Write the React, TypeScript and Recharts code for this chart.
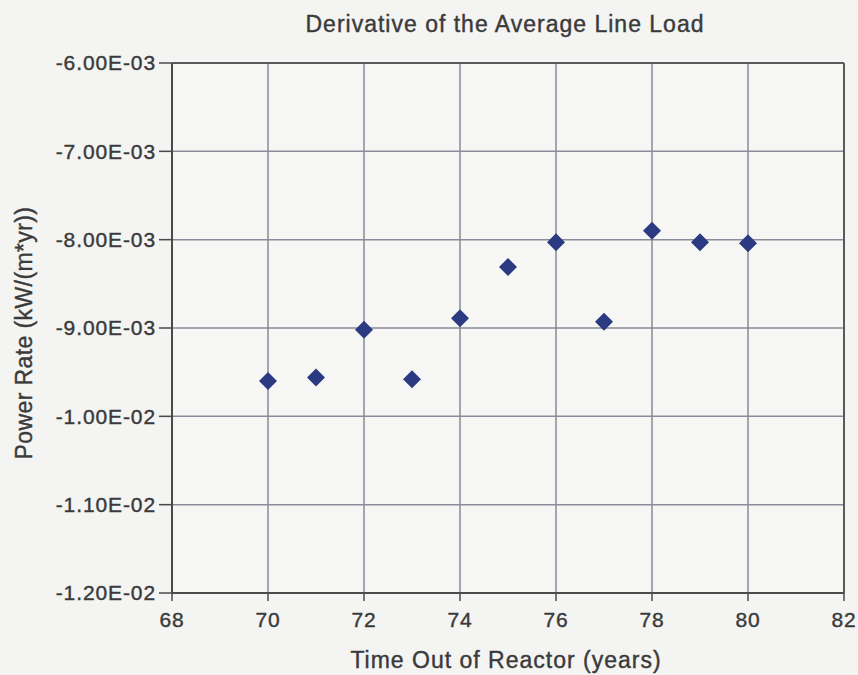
import React from "react";
import {
  ScatterChart,
  Scatter,
  XAxis,
  YAxis,
  CartesianGrid,
  ReferenceLine,
} from "recharts";

const years = [70, 71, 72, 73, 74, 75, 76, 77, 78, 79, 80];
const powerRate = [
  -0.0096, -0.00956, -0.00902, -0.00958, -0.00889, -0.00831, -0.00803, -0.00893,
  -0.0079, -0.00803, -0.00804,
];
const xTicks = [68, 70, 72, 74, 76, 78, 80, 82];
const yTicks = [-0.012, -0.011, -0.01, -0.009, -0.008, -0.007, -0.006];

const title = "Derivative of the Average Line Load";
const xLabel = "Time Out of Reactor (years)";
const yLabel = "Power Rate (kW/(m*yr))";

const data = years.map((x, i) => ({ x, y: powerRate[i] }));

const fmtSci = (v: number) => {
  const s = v.toExponential(2); // e.g. -6.00e-3
  const [m, e] = s.split("e");
  const neg = e[0] === "-";
  const digits = e.replace(/^[+-]/, "").padStart(2, "0");
  return `${m}E${neg ? "-" : "+"}${digits}`;
};

const TEXT = "#3a3a3a";
const FONT = "'Liberation Sans', Arial, sans-serif";

const Diamond = (props: any) => {
  const { cx, cy } = props;
  if (cx == null || cy == null) return null;
  const r = 9;
  return (
    <polygon
      points={`${cx},${cy - r} ${cx + r},${cy} ${cx},${cy + r} ${cx - r},${cy}`}
      fill="#2c3a82"
    />
  );
};

const tickStyle = {
  fill: TEXT,
  stroke: TEXT,
  strokeWidth: 0.4,
  fontSize: 21,
  letterSpacing: 0.9,
  fontFamily: FONT,
};

export default function App() {
  return (
    <div
      style={{
        position: "absolute",
        left: 0,
        top: 0,
        width: 858,
        height: 675,
        background: "#f4f4f2",
        fontFamily: FONT,
      }}
    >
      <ScatterChart
        width={858}
        height={675}
        margin={{ top: 63, right: 14, bottom: 42, left: 0 }}
      >
        <CartesianGrid stroke="#8a8a98" strokeWidth={1.5} fill="#f6f6f4" />
        <XAxis
          type="number"
          dataKey="x"
          domain={[68, 82]}
          ticks={xTicks}
          height={40}
          tickSize={8}
          tickMargin={11}
          axisLine={{ stroke: "#4a4a4a", strokeWidth: 2 }}
          tickLine={{ stroke: "#4a4a4a", strokeWidth: 1.5 }}
          tick={tickStyle}
        />
        <YAxis
          type="number"
          dataKey="y"
          domain={[-0.012, -0.006]}
          ticks={yTicks}
          width={172}
          tickSize={13}
          tickMargin={3}
          tickFormatter={fmtSci}
          axisLine={{ stroke: "#4a4a4a", strokeWidth: 2 }}
          tickLine={{ stroke: "#4a4a4a", strokeWidth: 1.5 }}
          tick={tickStyle}
        />
        <ReferenceLine y={-0.006} stroke="#5a5a5a" strokeWidth={2} />
        <ReferenceLine x={82} stroke="#5a5a5a" strokeWidth={2} />
        <Scatter data={data} shape={Diamond} isAnimationActive={false} />
      </ScatterChart>
      <svg
        width={858}
        height={675}
        style={{ position: "absolute", left: 0, top: 0, pointerEvents: "none" }}
      >
        <text
          x={505}
          y={32}
          textAnchor="middle"
          fill={TEXT}
          stroke={TEXT}
          strokeWidth={0.4}
          fontSize={23}
          letterSpacing={1}
          fontFamily={FONT}
        >
          {title}
        </text>
        <text
          x={506}
          y={668}
          textAnchor="middle"
          fill={TEXT}
          stroke={TEXT}
          strokeWidth={0.4}
          fontSize={23}
          letterSpacing={1}
          fontFamily={FONT}
        >
          {xLabel}
        </text>
        <text
          x={32}
          y={333}
          textAnchor="middle"
          fill={TEXT}
          stroke={TEXT}
          strokeWidth={0.4}
          fontSize={23}
          letterSpacing={0.4}
          fontFamily={FONT}
          transform="rotate(-90 32 333)"
        >
          {yLabel}
        </text>
      </svg>
    </div>
  );
}
